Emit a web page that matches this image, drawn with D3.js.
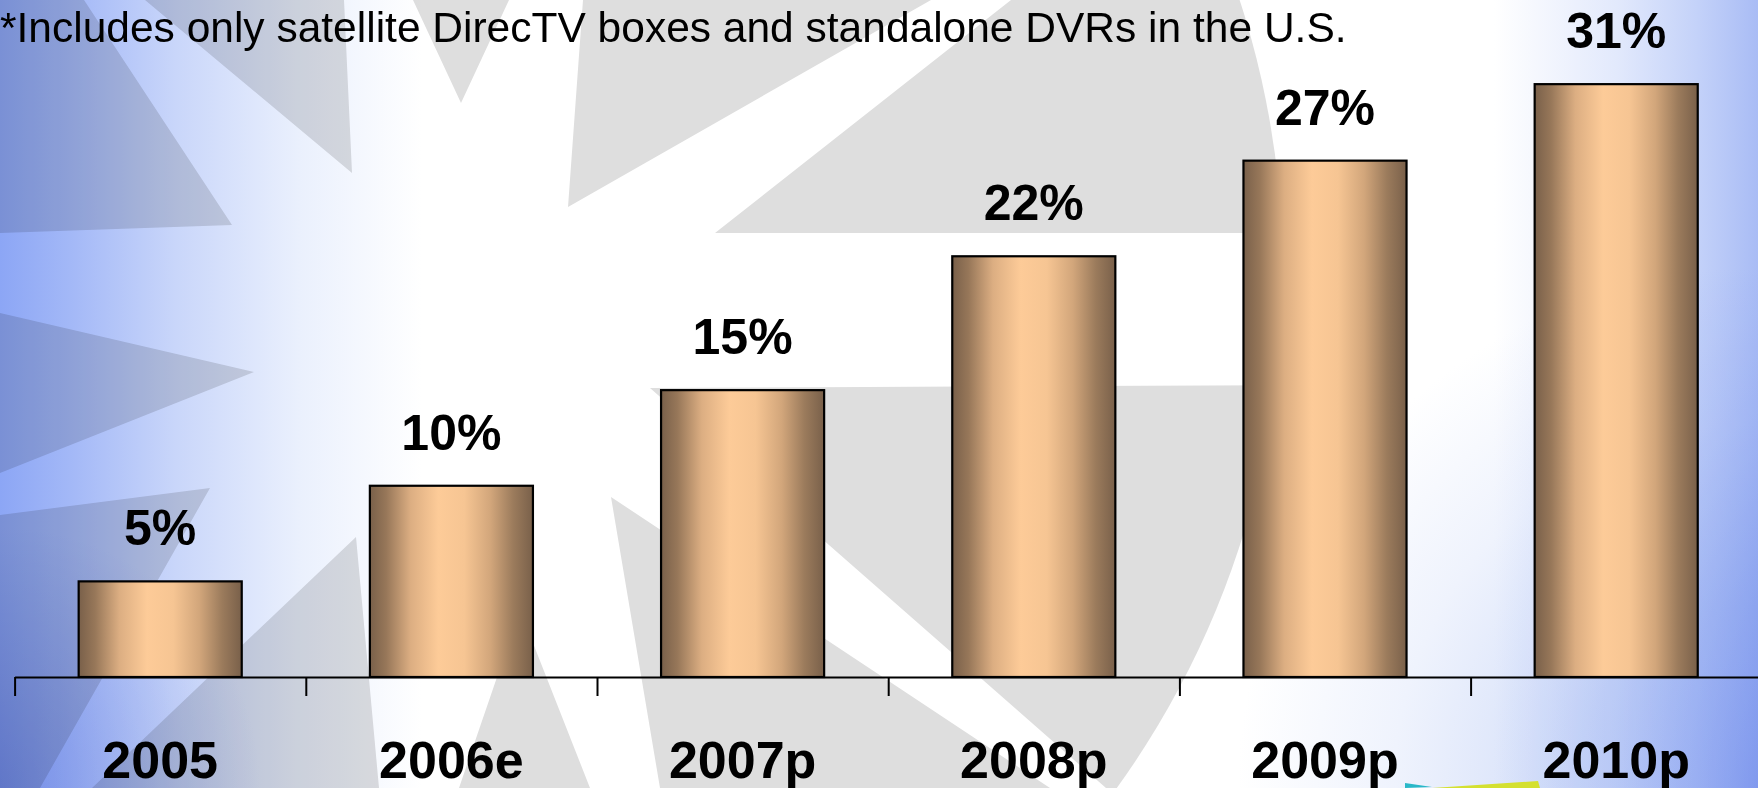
<!DOCTYPE html>
<html>
<head>
<meta charset="utf-8">
<script src="https://cdn.jsdelivr.net/npm/d3@7"></script>
<style>
  html, body { margin: 0; padding: 0; background: #fff; overflow: hidden; }
  svg { display: block; }
</style>
</head>
<body>
<svg id="chart" width="1758" height="788"></svg>
<script>
// ---- data ----
const categories = ["2005", "2006e", "2007p", "2008p", "2009p", "2010p"];
const values = [5, 10, 15, 22, 27, 31];
const valueLabels = ["5%", "10%", "15%", "22%", "27%", "31%"];
const footnote = "*Includes only satellite DirecTV boxes and standalone DVRs in the U.S.";

// ---- layout ----
const W = 1758, H = 788;
const baseY = 677;
const left = 14.6, step = 291.2;

const svg = d3.select("#chart");
const defs = svg.append("defs");

// ---- background decoration ----
svg.append("rect").attr("width", W).attr("height", H).attr("fill", "#ffffff");
svg.append("circle").attr("cx", 402).attr("cy", 273).attr("r", 881).attr("fill", "#dedede");
const star = [
  [0,233],[232,225],[84,0],[145,0],[352,173],[344,0],[413,0],[461,103],[509,0],[583,0],
  [568,207],[931,0],[1011,0],[715,233],[1758,233],[1758,383],[650,388],[1106,788],[1050,788],
  [611,497],[660,788],[590,788],[520,610],[459,788],[379,788],[356,537],[92,788],[40,788],
  [210,488],[0,515],[0,473],[254,372],[0,313]
];
svg.append("polygon").attr("points", star.map(p => p.join(",")).join(" ")).attr("fill", "#ffffff");

const bgGrad = defs.append("linearGradient").attr("id", "bgGrad")
  .attr("x1", "0").attr("x2", "1").attr("y1", "0").attr("y2", "0");
[["0", "#8ca6f5"], ["0.04", "#a3b8f7"], ["0.1", "#c9d6fa"], ["0.17", "#eaf0fd"], ["0.24", "#ffffff"],
 ["0.85", "#ffffff"], ["0.92", "#e2e9fc"], ["0.965", "#c4d2f9"], ["1", "#a9bcf5"]]
  .forEach(([o, c]) => bgGrad.append("stop").attr("offset", o).attr("stop-color", c));
svg.append("rect").attr("width", W).attr("height", H).attr("fill", "url(#bgGrad)")
  .style("mix-blend-mode", "multiply");

const brGrad = defs.append("radialGradient").attr("id", "brGrad")
  .attr("gradientUnits", "userSpaceOnUse")
  .attr("cx", 1758).attr("cy", 788).attr("r", 520);
[["0", "#c2d0f8"], ["0.35", "#d3def9"], ["0.7", "#eff3fd"], ["1", "#ffffff"]]
  .forEach(([o, c]) => brGrad.append("stop").attr("offset", o).attr("stop-color", c));
svg.append("rect").attr("width", W).attr("height", H).attr("fill", "url(#brGrad)")
  .style("mix-blend-mode", "multiply");

const blGrad = defs.append("radialGradient").attr("id", "blGrad")
  .attr("gradientUnits", "userSpaceOnUse")
  .attr("cx", 0).attr("cy", 788).attr("r", 260);
[["0", "#c9d2f0"], ["1", "#ffffff"]]
  .forEach(([o, c]) => blGrad.append("stop").attr("offset", o).attr("stop-color", c));
svg.append("rect").attr("width", W).attr("height", H).attr("fill", "url(#blGrad)")
  .style("mix-blend-mode", "multiply");

// small coloured slivers at the bottom edge
svg.append("polygon").attr("points", "1432,788 1538,781 1540,788").attr("fill", "#d4e030");
svg.append("polygon").attr("points", "1405,783 1432,787 1405,788").attr("fill", "#29b8c8");

// ---- scales ----
const x = d3.scaleBand().domain(categories)
  .range([left, left + step * categories.length])
  .paddingInner(0.44).paddingOuter(0.22);
const xEdge = d3.scaleLinear().domain([0, categories.length])
  .range([left, left + step * categories.length]);
const y = d3.scaleLinear().domain([0, 35.4]).range([baseY, 0]);

// ---- bar gradient ----
const barGrad = defs.append("linearGradient").attr("id", "barGrad")
  .attr("x1", "0").attr("x2", "1").attr("y1", "0").attr("y2", "0");
[["0", "#79604a"], ["0.1", "#977759"], ["0.25", "#dcae82"], ["0.42", "#fdcb98"],
 ["0.58", "#f6c593"], ["0.74", "#d2a67b"], ["0.88", "#9b7b5c"], ["1", "#79604a"]]
  .forEach(([o, c]) => barGrad.append("stop").attr("offset", o).attr("stop-color", c));

// ---- footnote ----
svg.append("text").attr("x", 0).attr("y", 42)
  .attr("font-family", "Liberation Sans, Arial, sans-serif")
  .attr("font-size", 42.5).attr("fill", "#000")
  .text(footnote);

// ---- bars ----
const data = categories.map((c, i) => ({ c, v: values[i], label: valueLabels[i] }));
svg.append("g").selectAll("rect").data(data).join("rect")
  .attr("x", d => x(d.c))
  .attr("y", d => y(d.v))
  .attr("width", x.bandwidth())
  .attr("height", d => y(0) - y(d.v))
  .attr("fill", "url(#barGrad)")
  .attr("stroke", "#000").attr("stroke-width", 2.2);

// value labels
svg.append("g").selectAll("text").data(data).join("text")
  .attr("x", d => x(d.c) + x.bandwidth() / 2)
  .attr("y", d => y(d.v) - 36)
  .attr("text-anchor", "middle")
  .attr("font-family", "Liberation Sans, Arial, sans-serif")
  .attr("font-weight", "bold").attr("font-size", 50).attr("fill", "#000")
  .text(d => d.label);

// ---- axis: boundary ticks ----
const axisG = svg.append("g").attr("transform", `translate(0,${baseY})`)
  .call(d3.axisBottom(xEdge).tickValues(d3.range(categories.length + 1))
    .tickSize(19).tickSizeOuter(0).tickFormat(""));
axisG.select(".domain").attr("stroke", "#000").attr("stroke-width", 2);
axisG.selectAll(".tick line").attr("stroke", "#000").attr("stroke-width", 2);

// category labels via band axis
const labG = svg.append("g").attr("transform", `translate(0,${baseY})`)
  .call(d3.axisBottom(x).tickSize(0).tickPadding(0));
labG.select(".domain").remove();
labG.selectAll(".tick text")
  .attr("y", 101).attr("dy", null)
  .attr("font-family", "Liberation Sans, Arial, sans-serif")
  .attr("font-weight", "bold").attr("font-size", 52).attr("fill", "#000");
</script>
</body>
</html>
